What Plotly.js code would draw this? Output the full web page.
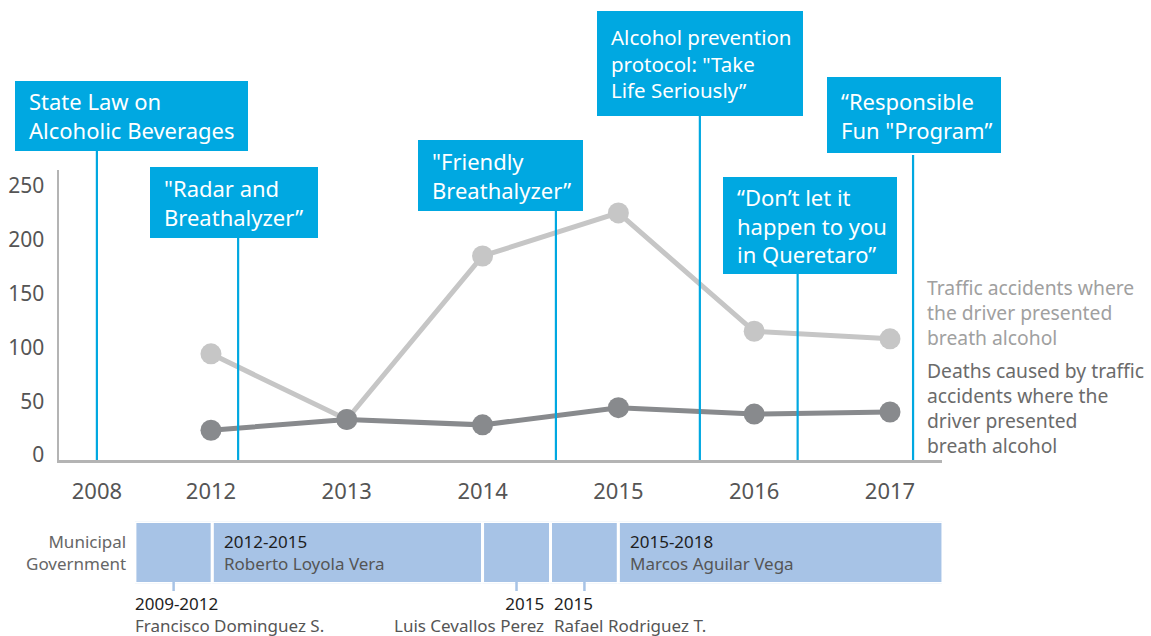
<!DOCTYPE html>
<html>
<head>
<meta charset="utf-8">
<script src="https://cdn.plot.ly/plotly-3.0.1.min.js"></script>
<style>html,body{margin:0;padding:0;background:#fff;}#chart{width:1151px;height:636px;}</style>
</head>
<body>
<div id="chart"></div>
<script>
// ---------- data ----------
const tickYears = ['2008', '2012', '2013', '2014', '2015', '2016', '2017'];
const dataYears = ['2012', '2013', '2014', '2015', '2016', '2017'];
const accidents = [94, 33, 185, 225, 115, 108];
const deaths = [23, 33, 28, 44, 38, 40];
const accidentsLabel = ['Traffic accidents where', 'the driver presented', 'breath alcohol'];
const deathsLabel = ['Deaths caused by traffic', 'accidents where the', 'driver presented', 'breath alcohol'];

const eventTexts = [
  ['State Law on', 'Alcoholic Beverages'],
  ['"Radar and', 'Breathalyzer”'],
  ['"Friendly', 'Breathalyzer”'],
  ['Alcohol prevention', 'protocol: "Take', 'Life Seriously”'],
  ['“Don’t let it', 'happen to you', 'in Queretaro”'],
  ['“Responsible', 'Fun "Program”']
];
// event timing on the timeline axis (2012 = 0, one unit per year, 2008 tick at -0.84)
const eventTime = [-0.84, 0.2, 2.54, 3.6, 4.32, 5.17];

const govLabel = ['Municipal', 'Government'];
const govTerms = ['2009-2012', '2012-2015', '2015', '2015', '2015-2018'];
const govNames = ['Francisco Dominguez S.', 'Roberto Loyola Vera', 'Luis Cevallos Perez', 'Rafael Rodriguez T.', 'Marcos Aguilar Vega'];
const govStart = [-0.56, 0.01, 2.0, 2.5, 3.0];
const govEnd = [0.01, 2.0, 2.5, 3.0, 5.39];

// ---------- layout helpers ----------
const W = 1151, H = 636;
const px = v => v / W;
const py = v => 1 - v / H;
const yearPos = y => (y === '2008' ? -0.84 : Number(y) - 2012);

const BLUE = '#00a8e1';
const AXIS = '#b4b4b4';
const LIGHT = '#c6c6c6';
const DARK = '#888a8d';
const FONT = 'Noto Sans, Open Sans, sans-serif';

// event box placement (pixels: left, right, top, bottom) and text size
const eventBox = [
  [15, 248, 81, 151],
  [150, 318, 167, 238],
  [418, 583, 140, 211],
  [597, 803, 11, 116],
  [723, 897, 177, 274],
  [827, 1001, 77, 153]
];
const eventFont = [22, 22, 22, 20.5, 22, 22];
// label placement for the government terms
const govLabelMode = ['below-left', 'inside', 'below-right', 'below-left', 'inside'];

const traces = [
  {
    x: dataYears.map(yearPos), y: accidents, type: 'scatter', mode: 'lines+markers',
    line: {color: LIGHT, width: 5}, marker: {color: LIGHT, size: 21},
    hoverinfo: 'skip', xaxis: 'x', yaxis: 'y'
  },
  {
    x: dataYears.map(yearPos), y: deaths, type: 'scatter', mode: 'lines+markers',
    line: {color: DARK, width: 5}, marker: {color: DARK, size: 21},
    hoverinfo: 'skip', xaxis: 'x', yaxis: 'y'
  },
  {
    type: 'bar', orientation: 'h',
    y: govNames.map(() => 0),
    base: govStart,
    x: govStart.map((s, i) => govEnd[i] - s),
    width: govStart.map(() => 1),
    marker: {color: '#a7c3e6', line: {color: '#ffffff', width: 3}},
    hoverinfo: 'skip', xaxis: 'x2', yaxis: 'y2'
  }
];

const shapes = [];
const annotations = [];

function addText(lines, opts) {
  const colors = opts.colors;
  const text = lines.map((ln, k) => colors ? '<span style="color:' + colors[k] + '">' + ln + '</span>' : ln).join('<br>');
  annotations.push({
    xref: opts.xref || 'paper', yref: 'paper',
    x: opts.x, xshift: opts.xshift || 0, y: py(opts.cy),
    xanchor: opts.xanchor, yanchor: 'middle',
    text: text, showarrow: false, align: opts.xanchor,
    font: {family: FONT, size: opts.size, color: opts.color || '#444444'}
  });
}

eventTexts.forEach((t, i) => {
  const b = eventBox[i];
  shapes.push({
    type: 'line', xref: 'x', yref: 'paper',
    x0: eventTime[i], x1: eventTime[i], y0: py(460), y1: py(b[3] + (i === 5 ? 2 : 0)),
    line: {color: BLUE, width: 2.2}
  });
  shapes.push({
    type: 'rect', xref: 'paper', yref: 'paper',
    x0: px(b[0]), x1: px(b[1]), y0: py(b[3]), y1: py(b[2]),
    fillcolor: BLUE, line: {width: 0}
  });
  addText(t, {x: px(b[0] + 12), xanchor: 'left', cy: (b[2] + b[3]) / 2, size: eventFont[i], color: '#ffffff'});
});

addText(accidentsLabel, {x: px(925), xanchor: 'left', cy: 312.5, size: 19.3, color: '#a0a0a0'});
addText(deathsLabel, {x: px(925), xanchor: 'left', cy: 407.5, size: 19.3, color: '#6b6b6b'});

addText(govLabel, {x: px(128), xanchor: 'right', cy: 552.5, size: 17, color: '#666666'});

govTerms.forEach((term, i) => {
  const mode = govLabelMode[i];
  const lines = [term, govNames[i]];
  const colors = ['#1e1e1e', '#555555'];
  if (mode === 'inside') {
    addText(lines, {xref: 'x2', x: govStart[i], xshift: 10, xanchor: 'left', cy: 552.5, size: 17, colors: colors});
  } else {
    const mid = (govStart[i] + govEnd[i]) / 2;
    shapes.push({
      type: 'line', xref: 'x2', yref: 'paper', x0: mid, x1: mid, y0: py(582), y1: py(591),
      line: {color: '#a7c3e6', width: 2.5}
    });
    const right = mode === 'below-right';
    addText(lines, {
      xref: 'x2', x: right ? govEnd[i] : govStart[i],
      xshift: right ? -4 : (i === 3 ? 2 : -2),
      xanchor: right ? 'right' : 'left', cy: 614.5, size: 17, colors: colors
    });
  }
});

const layout = {
  width: W, height: H,
  margin: {l: 0, r: 0, t: 0, b: 0},
  paper_bgcolor: '#ffffff', plot_bgcolor: 'rgba(0,0,0,0)',
  showlegend: false,
  font: {family: FONT},
  bargap: 0,
  xaxis: {
    domain: [px(59), px(942)], range: [-1.119, 5.383], anchor: 'y',
    showline: true, linecolor: AXIS, linewidth: 2.5,
    showgrid: false, zeroline: false,
    tickmode: 'array', tickvals: tickYears.map(yearPos), ticktext: tickYears,
    ticks: 'outside', ticklen: 10, tickcolor: 'rgba(0,0,0,0)',
    tickfont: {family: FONT, size: 22, color: '#555555'}, fixedrange: true
  },
  yaxis: {
    domain: [py(460), py(170)], range: [-4.65, 264.9], anchor: 'x',
    showline: true, linecolor: AXIS, linewidth: 2.5,
    showgrid: false, zeroline: false,
    tickmode: 'array', tickvals: [0, 50, 100, 150, 200, 250],
    ticks: 'outside', ticklen: 8, tickcolor: 'rgba(0,0,0,0)',
    tickfont: {family: FONT, size: 21, color: '#555555'}, fixedrange: true
  },
  xaxis2: {
    domain: [px(59), px(942)], range: [-1.119, 5.383], anchor: 'y2',
    visible: false, fixedrange: true
  },
  yaxis2: {
    domain: [py(583.5), py(521.5)], range: [-0.5, 0.5], anchor: 'x2',
    visible: false, fixedrange: true
  },
  shapes: shapes,
  annotations: annotations
};

Plotly.newPlot('chart', traces, layout, {displayModeBar: false, staticPlot: true});
</script>
</body>
</html>
